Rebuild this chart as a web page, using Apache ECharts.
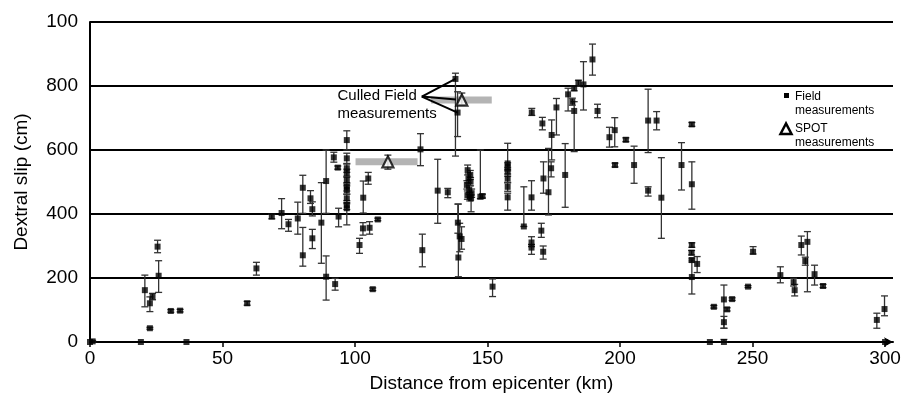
<!DOCTYPE html>
<html style="height: 100%">
  <head>
    <meta charset="utf-8" />
    <title>Dextral slip</title>
    <script src="https://cdn.jsdelivr.net/npm/echarts/dist/echarts.min.js"></script>
  </head>
  <body style="height: 100%; margin: 0; background: #fff">
    <div id="main" style="width: 904px; height: 408px"></div>
    <script type="text/javascript">
      // field measurements: distance (km), slip (cm), error bar low / high (cm)
      var fieldDist = [0, 1, 19.2, 36.4, 20.7, 22.6, 23.6, 22.6, 25.5, 25.9, 30.5, 34, 59.3, 62.8, 68.6, 72.3, 74.9, 78.4, 80.3, 80.3,
        83.2, 83.9, 83.9, 87.3, 89.1, 89.1, 92.5, 92, 93.5, 93.8, 96.9, 96.9, 96.9, 96.9, 96.9, 96.9, 96.9, 96.9, 96.9, 96.9,
        101.7, 103, 103.1, 105, 105.5, 106.7, 108.6, 124.7, 125.4, 131.2, 135, 137.9, 138.7, 138.8, 139.5, 140.2, 139,
        142.5, 143.5, 142.8, 143.6, 142.2, 143.1, 144, 142.4, 143.3, 143.8, 147.3, 148.1, 151.9,
        157.6, 157.6, 157.6, 157.6, 157.6, 157.6, 163.7, 166.6, 166.6, 166.6, 170.3, 171, 166.7, 170.7, 174.2, 174, 171.1, 173,
        176, 179.3, 180.4, 182, 182.7, 182.7, 184.3, 186.2, 189.6, 191.5, 196, 198, 198.1, 202.2, 205.3, 210.6, 213.8, 210.6,
        215.6, 223.2, 227.1, 227.1, 227.1, 227, 227.1, 229.1, 227.1, 233.9, 235.4, 239.2, 240.4, 239.2, 242.3, 239.2, 248.3,
        250.2, 260.5, 265.5, 265.9, 268.4, 270.7, 269.9, 273.4, 276.6, 296.9, 299.8, 300];
      var fieldSlip = [0, 2, 0, 0, 162, 121, 142, 43, 298, 207, 97, 98, 121, 230, 392, 403, 368, 386, 482, 271,
        449, 415, 324, 373, 503, 204, 181, 577, 545, 392, 631, 574, 543, 527, 506, 485, 475, 449, 428, 418,
        303, 355, 451, 511, 357, 165, 383, 602, 287, 473, 468, 822, 717, 373, 330, 322, 264,
        537, 522, 511, 501, 491, 475, 465, 459, 454, 449, 454, 456, 173,
        558, 548, 532, 511, 485, 452, 361, 452, 311, 295, 348, 282, 717, 683, 647, 543, 511, 468,
        733, 522, 774, 751, 793, 722, 810, 805, 883, 722, 640, 662, 553, 632, 553, 692, 692, 473,
        451, 553, 493, 680, 303, 279, 256, 244, 203, 0, 110, 133, 102, 62, 134, 0, 173,
        282, 209, 187, 162, 303, 313, 253, 212, 175, 69, 103, 0];
      var fieldLow = [0, 0, 0, 0, 110, 95, 132, 40, 279, 155, 93, 94, 115, 209, 385, 354, 346, 337, 402, 237,
        433, 394, 292, 246, 402, 131, 162, 562, 540, 360, 600, 558, 530, 515, 494, 472, 462, 436, 414, 366,
        277, 334, 403, 493, 337, 161, 379, 551, 235, 371, 451, 581, 642, 340, 282, 290, 204,
        522, 508, 497, 488, 478, 462, 452, 446, 441, 407, 448, 450, 142,
        540, 535, 518, 497, 471, 412, 361, 412, 298, 274, 327, 259, 708, 663, 569, 516, 465, 397,
        647, 421, 722, 740, 785, 595, 800, 725, 834, 701, 609, 610, 547, 626, 496, 592, 663, 456,
        324, 475, 415, 674, 296, 272, 250, 217, 150, 0, 106, 43, 97, 43, 130, 0, 170,
        275, 185, 175, 144, 272, 157, 240, 178, 170, 43, 82, 0];
      var fieldHigh = [0, 5, 0, 0, 209, 141, 152, 46, 318, 254, 101, 102, 127, 249, 399, 448, 383, 437, 521, 358,
        473, 438, 352, 498, 600, 269, 199, 593, 550, 418, 660, 590, 556, 540, 518, 498, 488, 462, 442, 432,
        324, 373, 503, 530, 376, 169, 387, 651, 337, 571, 480, 840, 782, 431, 371, 360, 431,
        553, 536, 525, 514, 504, 488, 478, 472, 467, 460, 600, 462, 197,
        621, 560, 546, 525, 499, 465, 485, 504, 329, 305, 371, 300, 730, 702, 694, 563, 563, 605,
        761, 620, 793, 762, 800, 751, 818, 876, 931, 743, 671, 701, 559, 638, 612, 790, 720, 485,
        576, 623, 563, 686, 310, 286, 262, 267, 256, 0, 114, 178, 107, 80, 138, 8, 176,
        298, 235, 199, 180, 331, 345, 265, 240, 180, 90, 144, 0];

      // SPOT measurements: centre distance, slip, slip low/high, distance range
      var spotDist = [112.4, 140.3];
      var spotSlip = [563, 756];
      var spotLow = [540, 741];
      var spotHigh = [584, 778];
      var spotFrom = [100.2, 128.7];
      var spotTo = [123.6, 151.6];

      // callout "Culled Field measurements"
      var calloutApex = [125.2, 767];
      var calloutTargets = [[137.9, 822], [138.1, 758], [138.7, 717]];
      var calloutText = "Culled Field\nmeasurements";
      var calloutAnchor = [93.4, 797];

      var xTicks = [0, 50, 100, 150, 200, 250, 300];
      var FONT = "Liberation Sans, Arial, sans-serif";

      var fieldPts = [], fieldBars = [];
      for (var i = 0; i < fieldDist.length; i++) {
        fieldPts.push([fieldDist[i], fieldSlip[i]]);
        fieldBars.push([fieldDist[i], fieldLow[i], fieldHigh[i]]);
      }
      var spotPts = [], spotBars = [], spotRanges = [];
      for (var j = 0; j < spotDist.length; j++) {
        spotPts.push([spotDist[j], spotSlip[j]]);
        spotBars.push([spotDist[j], spotLow[j], spotHigh[j]]);
        spotRanges.push([spotFrom[j], spotTo[j], spotSlip[j]]);
      }
      var calloutData = calloutTargets.map(function (t) {
        return [calloutApex[0], calloutApex[1], t[0], t[1]];
      });

      function renderErr(params, api) {
        var x = api.value(0), lo = api.value(1), hi = api.value(2);
        if (hi - lo < 1) return null;
        var a = api.coord([x, lo]), b = api.coord([x, hi]);
        var w = 3.5, st = { stroke: "#333", lineWidth: 1.3 };
        return {
          type: "group",
          children: [
            { type: "line", shape: { x1: a[0], y1: a[1], x2: b[0], y2: b[1] }, style: st },
            { type: "line", shape: { x1: a[0] - w, y1: a[1], x2: a[0] + w, y2: a[1] }, style: st },
            { type: "line", shape: { x1: b[0] - w, y1: b[1], x2: b[0] + w, y2: b[1] }, style: st },
          ],
        };
      }

      function renderRange(params, api) {
        var a = api.coord([api.value(0), api.value(2)]);
        var b = api.coord([api.value(1), api.value(2)]);
        return {
          type: "rect",
          shape: { x: a[0], y: a[1] - 3.5, width: b[0] - a[0], height: 7 },
          style: { fill: "#b4b4b4" },
        };
      }

      function renderCallout(params, api) {
        var a = api.coord([api.value(0), api.value(1)]);
        var b = api.coord([api.value(2), api.value(3)]);
        var children = [
          { type: "line", shape: { x1: a[0], y1: a[1], x2: b[0], y2: b[1] }, style: { stroke: "#000", lineWidth: 2 } },
        ];
        if (params.dataIndex === 0) {
          var t = api.coord(calloutAnchor);
          children.push({
            type: "text",
            x: t[0],
            y: t[1],
            style: { text: calloutText, fontSize: 15, fontFamily: FONT, fill: "#000", align: "left", verticalAlign: "top", lineHeight: 18 },
          });
        }
        return { type: "group", children: children };
      }

      var myChart = echarts.init(document.getElementById("main"));
      var option = {
        animation: false,
        grid: { left: 90, right: 11, top: 22, bottom: 66 },
        xAxis: {
          type: "value",
          min: 0,
          max: 303,
          interval: 50,
          name: "Distance from epicenter (km)",
          nameLocation: "middle",
          nameGap: 32,
          nameTextStyle: { color: "#000", fontSize: 19, fontFamily: FONT },
          axisLine: { lineStyle: { color: "#000", width: 2 }, symbol: ["none", "arrow"], symbolSize: [7, 9] },
          axisTick: { show: true, length: 5, customValues: xTicks, lineStyle: { color: "#000", width: 1.5 } },
          axisLabel: {
            color: "#000", fontSize: 19, fontFamily: FONT, margin: 7, customValues: xTicks,
            formatter: function (v) { return v % 50 === 0 ? String(v) : ""; },
          },
          splitLine: { show: false },
        },
        yAxis: {
          type: "value",
          min: 0,
          max: 1000,
          interval: 200,
          name: "Dextral slip (cm)",
          nameLocation: "middle",
          nameGap: 59,
          nameTextStyle: { color: "#000", fontSize: 19, fontFamily: FONT },
          axisLine: { show: true, lineStyle: { color: "#000", width: 2 } },
          axisTick: { show: false },
          axisLabel: {
            color: "#000", fontSize: 19, fontFamily: FONT, margin: 12,
            formatter: function (v) { return v === 1000 ? "100" : String(v); },
          },
          splitLine: { show: true, lineStyle: { color: "#000", width: 2 } },
        },
        graphic: [
          { type: "rect", left: 784, top: 93, shape: { width: 5, height: 5 }, style: { fill: "#000" } },
          { type: "text", left: 795, top: 90, style: { text: "Field\nmeasurements", fontSize: 12, lineHeight: 13.5, fontFamily: FONT, fill: "#000" } },
          { type: "polygon", shape: { points: [[786, 123.5], [780.5, 134], [791.5, 134]] }, style: { fill: "#fff", stroke: "#000", lineWidth: 2.5 } },
          { type: "text", left: 795, top: 122, style: { text: "SPOT\nmeasurements", fontSize: 12, lineHeight: 13.5, fontFamily: FONT, fill: "#000" } },
        ],
        series: [
          { name: "SPOT range", type: "custom", renderItem: renderRange, data: spotRanges, encode: { x: [0, 1], y: 2 }, z: 1 },
          { name: "Field error", type: "custom", renderItem: renderErr, data: fieldBars, encode: { x: 0, y: [1, 2] }, z: 2 },
          { name: "SPOT error", type: "custom", renderItem: renderErr, data: spotBars, encode: { x: 0, y: [1, 2] }, z: 2 },
          {
            name: "Field measurements", type: "scatter", data: fieldPts, symbol: "rect", symbolSize: 6,
            itemStyle: { color: "#000" }, z: 3,
          },
          {
            name: "SPOT measurements", type: "scatter", data: spotPts, symbol: "triangle", symbolSize: 11,
            itemStyle: { color: "#fff", borderColor: "#000", borderWidth: 2.2 }, z: 4,
          },
          { name: "Callout", type: "custom", renderItem: renderCallout, data: calloutData, encode: { x: [0, 2], y: [1, 3] }, z: 5 },
        ],
      };
      myChart.setOption(option);
    </script>
  </body>
</html>
